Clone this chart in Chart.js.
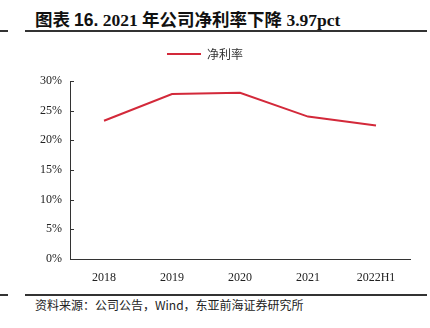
<!DOCTYPE html>
<html>
<head>
<meta charset="utf-8">
<script src="https://cdn.jsdelivr.net/npm/chart.js@4.4.0/dist/chart.umd.min.js"></script>
<style>
  html, body { margin: 0; padding: 0; background: #fff; }
  body { width: 430px; height: 328px; position: relative; overflow: hidden; }
  .rule { position: absolute; height: 2px; background: #333; }
  #title {
    position: absolute; left: 35px; top: 6px; font-size: 17.5px; font-weight: bold; color: #111;
    font-family: "Liberation Serif", "Noto Sans CJK SC", serif; white-space: nowrap;
  }
  #title .cjk { font-family: "Noto Sans CJK SC", sans-serif; }
  #source {
    position: absolute; left: 35px; top: 296px; font-size: 12px; color: #222;
    font-family: "Noto Sans CJK SC", sans-serif; white-space: nowrap;
  }
  #wrap { position: absolute; left: 0; top: 40px; width: 452px; height: 250px; }
</style>
</head>
<body>
<div class="rule" style="left:0;width:8px;top:30px"></div>
<div class="rule" style="left:25px;width:402px;top:30px"></div>
<div id="title"><span class="cjk">图表 </span><span style="font-family:'Liberation Sans',sans-serif">16.</span> 2021 <span class="cjk">年公司净利率下降</span> 3.97pct</div>
<div id="wrap"><canvas id="chart" width="452" height="250"></canvas></div>
<div class="rule" style="left:0;width:8px;top:294px"></div>
<div class="rule" style="left:25px;width:402px;top:294px"></div>
<div id="source">资料来源：公司公告，Wind，东亚前海证券研究所</div>

<script>
const categories = ['2018', '2019', '2020', '2021', '2022H1'];
const netMargin = [23.3, 27.8, 28.0, 24.0, 22.5];
const yTicks = [0, 5, 10, 15, 20, 25, 30];

// short tick marks drawn inside the y axis
const innerTicks = {
  id: 'innerTicks',
  afterDraw(chart) {
    const y = chart.scales.y;
    const ctx = chart.ctx;
    ctx.save();
    ctx.strokeStyle = '#333';
    ctx.lineWidth = 1;
    yTicks.forEach(v => {
      const py = Math.round(y.getPixelForValue(v)) + 0.5;
      ctx.beginPath();
      ctx.moveTo(y.right, py);
      ctx.lineTo(y.right + 4, py);
      ctx.stroke();
    });
    ctx.restore();
  }
};

// extra space under the legend
const legendGap = {
  id: 'legendGap',
  beforeInit(chart) {
    const fit = chart.legend.fit;
    chart.legend.fit = function () {
      fit.bind(chart.legend)();
      this.height += 11;
    };
  }
};

new Chart(document.getElementById('chart').getContext('2d'), {
  type: 'line',
  data: {
    labels: categories,
    datasets: [{
      label: '净利率',
      data: netMargin,
      borderColor: '#d3293a',
      backgroundColor: '#d3293a',
      borderWidth: 2,
      pointRadius: 0,
      tension: 0
    }]
  },
  options: {
    responsive: false,
    animation: false,
    layout: { padding: { left: 0, right: 42, top: 0, bottom: 0 } },
    plugins: {
      tooltip: { enabled: false },
      legend: {
        labels: {
          usePointStyle: true,
          pointStyle: 'line',
          pointStyleWidth: 34,
          boxHeight: 12,
          padding: 8,
          color: '#333',
          font: { family: 'Noto Sans CJK SC', size: 12 }
        }
      }
    },
    scales: {
      x: {
        offset: true,
        grid: { display: false, drawTicks: false },
        border: { display: true, color: '#333', width: 1 },
        ticks: { color: '#222', padding: 12, font: { family: 'Liberation Serif', size: 12 } },
        afterFit(s) { s.height = 31; }
      },
      y: {
        min: 0,
        max: 30,
        grid: { display: false, drawTicks: false },
        border: { display: true, color: '#333', width: 1 },
        ticks: {
          stepSize: 5,
          padding: 8,
          color: '#222',
          font: { family: 'Liberation Serif', size: 12 },
          callback: v => v + '%'
        },
        afterFit(s) { s.width = 70; }
      }
    }
  },
  plugins: [innerTicks, legendGap]
});
</script>
</body>
</html>
